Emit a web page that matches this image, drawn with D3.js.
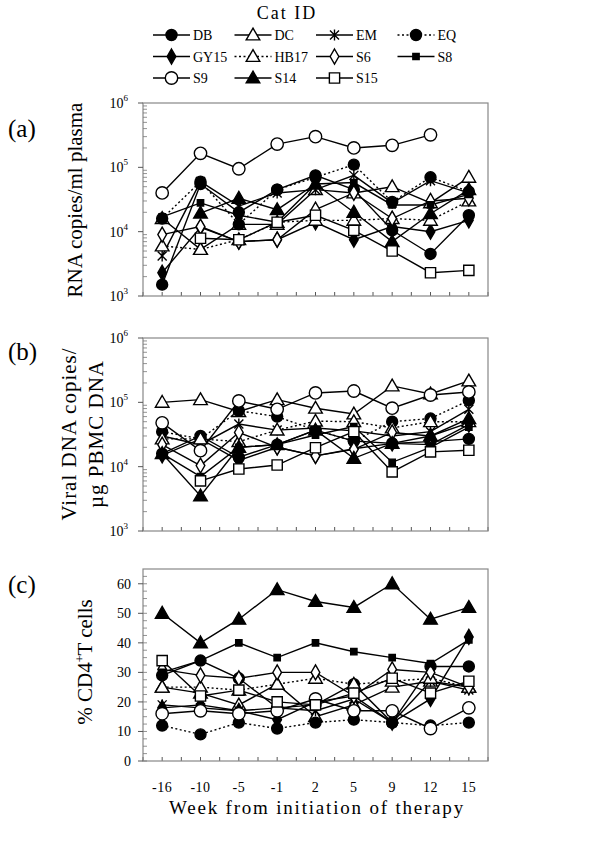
<!DOCTYPE html>
<html>
<head>
<meta charset="utf-8">
<script src="https://cdn.jsdelivr.net/npm/d3@7/dist/d3.min.js"></script>
<style>
  body { margin: 0; background: #fff; }
  text { font-family: "Liberation Serif", "Times New Roman", serif; fill: #000; }
</style>
</head>
<body>
<svg width="600" height="846"></svg>
<script>
// weeks from initiation of therapy
const weeks = ['-16', '-10', '-5', '-1', '2', '5', '9', '12', '15'];
const catIds = ['DB', 'DC', 'EM', 'EQ', 'GY15', 'HB17', 'S6', 'S8', 'S9', 'S14', 'S15'];
const markerTypes = ['dot', 'tri', 'star', 'dot', 'diamondFill', 'tri', 'diamond', 'smallSquare', 'ring', 'triFill', 'square'];
const dotted = ['EQ', 'HB17'];

// (a) RNA copies/ml plasma, one row per cat
const rnaValues = [
  [1500, 55000, 20000, 45000, 75000, 45000, 10500, 4500, 18000],
  [16000, 5300, 13000, 13000, 45000, 40000, 50000, 28000, 70000],
  [4200, 60000, 25000, 40000, 45000, 75000, 28000, 62000, 40000],
  [16000, 60000, 13000, 45000, 70000, 110000, 29000, 70000, 42000],
  [2300, 11700, 7000, 7500, 14000, 7500, 12000, 10000, 15000],
  [6000, 5300, 7500, 14000, 15000, 15000, 16000, 15000, 30000],
  [9000, 12000, 7000, 7500, 22000, 40000, 16000, 30000, 33000],
  [17000, 28000, 18000, 14000, 55000, 58000, 26000, 26000, 38000],
  [40000, 165000, 95000, 230000, 300000, 200000, 220000, 320000, null],
  [null, 19400, 33000, 22000, 55000, 20000, 7000, 19000, 45000],
  [null, 7900, 7500, 14000, 18000, 10500, 5000, 2300, 2500]
];

// (b) viral DNA copies / ug PBMC DNA
const dnaValues = [
  [16000, 30000, 14000, 22000, 37000, 25000, 23000, 24500, 27000],
  [100000, 110000, 72000, 110000, 81000, 66000, 180000, 135000, 215000],
  [30000, 22000, 46000, 37000, 40000, 36000, 30000, 35000, 78000],
  [35000, 27000, 74000, 60000, 37000, 25000, 50000, 56000, 107000],
  [15000, 27000, 12500, 20000, 14700, 19000, 23000, 22000, 45000],
  [27000, 27000, 24500, 37000, 51000, 50000, 40000, 50000, 50000],
  [22000, 10400, 34000, 20000, 14700, 18600, 34000, 30000, 48000],
  [16000, 7000, 20000, 22000, 31000, 42000, 11700, 20000, 41000],
  [48000, 17700, 105000, 78000, 140000, 150000, 81000, 130000, 145000],
  [16000, 3500, 20000, 22000, 37000, 13500, 23000, 30000, 56000],
  [null, 6000, 9200, 10600, 19700, 35000, 8300, 17000, 18000]
];

// (c) % CD4+ T cells
const cd4Values = [
  [29, 34, 28, 18, 19, 26, 13, 32, 32],
  [25, 23, 19, 26, 15, 19, 25, 27, 25],
  [19, 18, 17, 18, 17, 21, 13, 27, 24],
  [12, 9, 13, 11, 13, 14, 13, 12, 13],
  [18, 19, 17, 14, 20, 22, 13, 21, 42],
  [25, 25, 24, 26, 28, 26, 27, 28, 25],
  [31, 29, 28, 30, 30, 22, 31, 30, 25],
  [30, 34, 40, 35, 40, 37, 35, 33, 41],
  [16, 17, 16, 17, 21, 17, 17, 11, 18],
  [50, 40, 48, 58, 54, 52, 60, 48, 52],
  [34, 22, 24, 20, 19, 23, 28, 23, 27]
];
const cd4Ticks = [0, 10, 20, 30, 40, 50, 60];

const svg = d3.select('svg');
const left = 143, right = 488;

const x = d3.scaleBand().domain(weeks).range([left, right]).padding(0);
const cx = (w) => x(w) + x.bandwidth() / 2;

function drawMarker(g, type, px, py) {
  const sw = 1.4;
  if (type === 'dot' || type === 'ring') {
    g.append('circle').attr('cx', px).attr('cy', py)
      .attr('r', type === 'ring' ? 6.2 : 5.5)
      .attr('fill', type === 'ring' ? '#fff' : '#000')
      .attr('stroke', '#000').attr('stroke-width', sw);
  } else if (type === 'star') {
    const s = 4.5;
    g.append('path')
      .attr('d', `M${px - s},${py - s}L${px + s},${py + s}M${px - s},${py + s}L${px + s},${py - s}M${px},${py - s - 1}L${px},${py + s + 1}`)
      .attr('stroke', '#000').attr('stroke-width', sw).attr('fill', 'none');
  } else {
    let sym, size, fill;
    if (type === 'tri' || type === 'triFill') { sym = d3.symbolTriangle; size = 80; fill = type === 'tri' ? '#fff' : '#000'; }
    else if (type === 'diamond' || type === 'diamondFill') { sym = d3.symbolDiamond; size = 65; fill = type === 'diamond' ? '#fff' : '#000'; }
    else if (type === 'smallSquare') { sym = d3.symbolSquare; size = 40; fill = '#000'; }
    else { sym = d3.symbolSquare; size = 105; fill = '#fff'; }
    g.append('path')
      .attr('d', d3.symbol().type(sym).size(size)())
      .attr('transform', `translate(${px},${type.startsWith('tri') ? py + 1 : py})`)
      .attr('fill', fill).attr('stroke', '#000').attr('stroke-width', sw);
  }
}

function drawSeries(values, y) {
  const g = svg.append('g');
  const line = d3.line()
    .defined((d) => d != null)
    .x((d, i) => cx(weeks[i]))
    .y((d) => y(d));
  values.forEach((row, k) => {
    g.append('path')
      .datum(row)
      .attr('d', line)
      .attr('fill', 'none')
      .attr('stroke', '#000')
      .attr('stroke-width', 1.4)
      .attr('stroke-dasharray', dotted.includes(catIds[k]) ? '2,2.5' : null);
  });
  values.forEach((row, k) => {
    row.forEach((v, i) => {
      if (v != null) drawMarker(g, markerTypes[k], cx(weeks[i]), y(v));
    });
  });
}

function frame(top, bottom) {
  // half-band ticks along the bottom
  const xt = svg.append('g');
  for (let i = 0; i <= weeks.length * 2; i++) {
    const px = left + i * x.bandwidth() / 2;
    xt.append('line').attr('x1', px).attr('x2', px).attr('y1', bottom).attr('y2', bottom - 4)
      .attr('stroke', '#555').attr('stroke-width', 1);
  }
  svg.append('rect').attr('x', left).attr('y', top)
    .attr('width', right - left).attr('height', bottom - top)
    .attr('fill', 'none').attr('stroke', '#888').attr('stroke-width', 1.2);
}

function logPanel(values, top, bottom) {
  const y = d3.scaleLog().domain([1e3, 1e6]).range([bottom, top]);
  frame(top, bottom);
  const ax = svg.append('g');
  [3, 4, 5].forEach((e) => {
    for (let m = 2; m <= 9; m++) {
      const py = y(m * Math.pow(10, e));
      ax.append('line').attr('x1', left).attr('x2', left + 4).attr('y1', py).attr('y2', py)
        .attr('stroke', '#777').attr('stroke-width', 0.8);
    }
  });
  [3, 4, 5, 6].forEach((e) => {
    const py = y(Math.pow(10, e));
    ax.append('line').attr('x1', left - 5).attr('x2', left).attr('y1', py).attr('y2', py)
      .attr('stroke', '#555');
    const t = ax.append('text').attr('x', 128).attr('y', py + 5)
      .attr('text-anchor', 'end').attr('font-size', 14);
    t.append('tspan').text('10');
    t.append('tspan').attr('dy', -7).attr('font-size', 9).text(e);
  });
  drawSeries(values, y);
}

// panel (a)
logPanel(rnaValues, 103, 296);
// panel (b)
logPanel(dnaValues, 338, 531);

// panel (c)
const yc = d3.scaleLinear().domain([0, 65]).range([761, 569]);
frame(569, 761);
const axc = svg.append('g');
d3.range(0, 65, 2.5).forEach((v) => {
  axc.append('line').attr('x1', left).attr('x2', left + 4).attr('y1', yc(v)).attr('y2', yc(v))
    .attr('stroke', '#777').attr('stroke-width', 0.8);
});
cd4Ticks.forEach((v) => {
  axc.append('line').attr('x1', left - 5).attr('x2', left).attr('y1', yc(v)).attr('y2', yc(v))
    .attr('stroke', '#555');
  axc.append('text').attr('x', 131).attr('y', yc(v) + 5)
    .attr('text-anchor', 'end').attr('font-size', 14).text(v);
});
drawSeries(cd4Values, yc);

// x tick labels
weeks.forEach((w) => {
  svg.append('text').attr('x', cx(w)).attr('y', 792)
    .attr('text-anchor', 'middle').attr('font-size', 14).attr('letter-spacing', 0.5).text(w);
});
svg.append('text').attr('x', 317).attr('y', 814)
  .attr('text-anchor', 'middle').attr('font-size', 19).attr('letter-spacing', 1.8)
  .text('Week from initiation of therapy');

// panel letters
[['(a)', 137], ['(b)', 360], ['(c)', 593]].forEach(([s, py]) => {
  svg.append('text').attr('x', 8).attr('y', py).attr('font-size', 25).text(s);
});

// y titles
svg.append('text').attr('transform', 'translate(82,200) rotate(-90)')
  .attr('text-anchor', 'middle').attr('font-size', 21).text('RNA copies/ml plasma');
svg.append('text').attr('transform', 'translate(76,434) rotate(-90)')
  .attr('text-anchor', 'middle').attr('font-size', 21).attr('letter-spacing', 1).text('Viral DNA copies/');
svg.append('text').attr('transform', 'translate(103,434) rotate(-90)')
  .attr('text-anchor', 'middle').attr('font-size', 21).attr('letter-spacing', 1).text('µg PBMC DNA');
const cdTitle = svg.append('text').attr('transform', 'translate(92,662) rotate(-90)')
  .attr('text-anchor', 'middle').attr('font-size', 21);
cdTitle.append('tspan').text('% CD4');
cdTitle.append('tspan').attr('dy', -8).attr('font-size', 12).text('+');
cdTitle.append('tspan').attr('dy', 8).text('T cells');

// legend
svg.append('text').attr('x', 287).attr('y', 19).attr('text-anchor', 'middle')
  .attr('font-size', 18).attr('letter-spacing', 2).text('Cat ID');
const legend = svg.append('g');
catIds.forEach((id, k) => {
  const col = k % 4, row = Math.floor(k / 4);
  const lx = 153 + col * 81.5, ly = 35 + row * 21.5;
  legend.append('line').attr('x1', lx).attr('x2', lx + 37).attr('y1', ly).attr('y2', ly)
    .attr('stroke', '#000').attr('stroke-width', 1.4)
    .attr('stroke-dasharray', dotted.includes(id) ? '2,2.5' : null);
  drawMarker(legend, markerTypes[k], lx + 18.5, ly);
  legend.append('text').attr('x', lx + 40).attr('y', ly + 5).attr('font-size', 14).text(id);
});
</script>
</body>
</html>
